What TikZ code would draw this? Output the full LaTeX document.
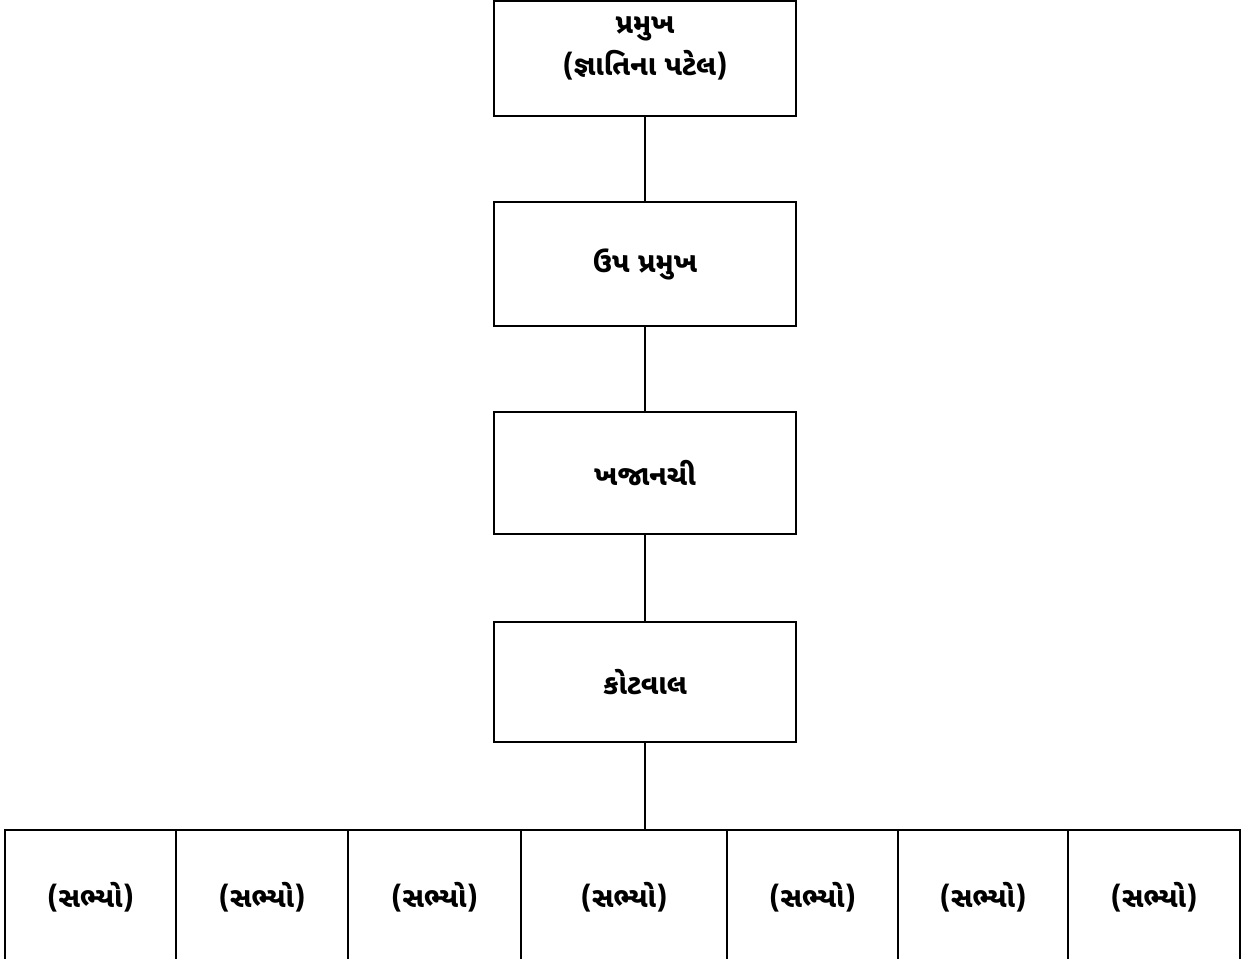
\documentclass[tikz,border=0pt]{standalone}
\usepackage{fontspec}
\newfontfamily\gujfont[Script=Gujarati]{Noto Sans Gujarati UI}
\usetikzlibrary{positioning}
\tikzstyle{post}=[draw,rectangle,line width=1.4pt,minimum width=6.04cm,align=center,font=\gujfont\bfseries\fontsize{16}{22}\selectfont]
\tikzstyle{member}=[draw,rectangle,line width=1.4pt,minimum height=2.7cm,font=\gujfont\bfseries\fontsize{16}{22}\selectfont]

\begin{document}
\begin{tikzpicture}
\useasboundingbox (0,0) rectangle (24.88,-19.18);
\node[post, minimum height=2.3cm] at (12.9, -1.17) (pramukh) {\def\arraystretch{1.1}\raisebox{0.1cm}[0.9cm][0.9cm]{\begin{tabular}{@{}c@{}}પ્રમુખ\\(જ્ઞાતિના પટેલ)\end{tabular}}};
\node[post, minimum height=2.48cm] at (12.9, -5.28) (upa) {ઉપ પ્રમુખ};
\node[post, minimum height=2.44cm] at (12.9, -9.46) (khajanchi) {ખજાનચી};
\node[post, minimum height=2.4cm] at (12.9, -13.64) (kotwal) {કોટવાલ};
\node[member, minimum width=3.42cm] at (1.81, -17.95) (s1) {(સભ્યો)};
\node[member, minimum width=3.44cm] at (5.24, -17.95) (s2) {(સભ્યો)};
\node[member, minimum width=3.46cm] at (8.69, -17.95) (s3) {(સભ્યો)};
\node[member, minimum width=4.12cm] at (12.48, -17.95) (s4) {(સભ્યો)};
\node[member, minimum width=3.42cm] at (16.25, -17.95) (s5) {(સભ્યો)};
\node[member, minimum width=3.40cm] at (19.66, -17.95) (s6) {(સભ્યો)};
\node[member, minimum width=3.44cm] at (23.08, -17.95) (s7) {(સભ્યો)};
\draw[line width=0.8pt] (pramukh) -- (upa);
\draw[line width=0.8pt] (upa) -- (khajanchi);
\draw[line width=0.8pt] (khajanchi) -- (kotwal);
\draw[line width=0.8pt] (kotwal) -- (kotwal.south |- s4.north);
\end{tikzpicture}
\end{document}
